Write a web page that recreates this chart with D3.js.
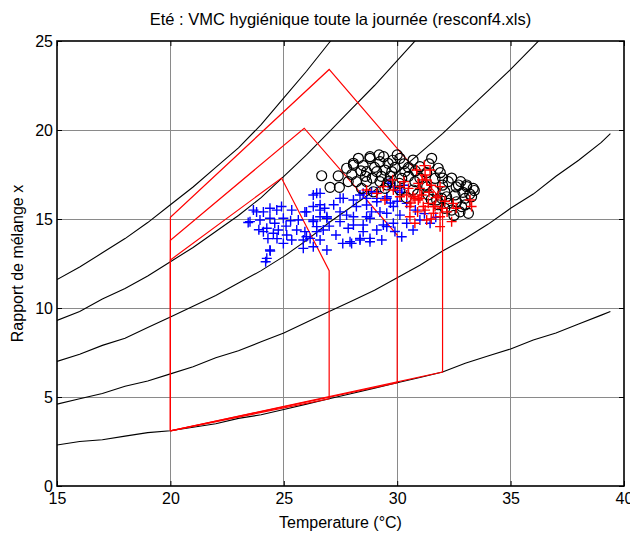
<!DOCTYPE html>
<html>
<head>
<meta charset="utf-8">
<script src="https://cdn.jsdelivr.net/npm/d3@7"></script>
<style>
body { margin: 0; background: #fff; }
svg { font-family: "Liberation Sans", Arial, sans-serif; }
</style>
</head>
<body>
<div id="chart"></div>
<script>
// humidity curves, read at each degree
var curveT = [15,16,17,18,19,20,21,22,23,24,25,26,27,28,29,30,31,32,33,34,35,36,37,38,39,39.4];
var rh100 = [11.6,12.3,13.1,13.9,14.8,15.8,16.8,17.9,19.0,20.3,21.8,23.3,24.9,26.5];
var rh80 = [9.3,9.8,10.5,11.1,11.8,12.6,13.4,14.3,15.2,16.2,17.4,18.6,19.9,21.2,22.5,23.9,25.3];
var rh60 = [7.0,7.4,7.9,8.3,8.9,9.5,10.1,10.7,11.4,12.1,12.9,13.8,14.8,15.7,16.6,17.6,18.7,19.8,21.0,22.2,23.4,24.7,26.0];
var rh40 = [4.6,4.9,5.2,5.6,5.9,6.3,6.7,7.2,7.6,8.1,8.6,9.2,9.8,10.4,11.0,11.7,12.4,13.2,13.9,14.7,15.6,16.4,17.4,18.3,19.3,19.8];
var rh20 = [2.3,2.5,2.6,2.8,3.0,3.1,3.3,3.5,3.8,4.0,4.3,4.6,4.9,5.2,5.5,5.8,6.1,6.4,6.9,7.3,7.7,8.2,8.6,9.1,9.6,9.8];

// comfort zones (temperature, mixing ratio)
var zoneA_T = [20,20,27,32,32,20];
var zoneA_x = [3.1,15.1,23.4,16.0,6.4,3.1];
var zoneB_T = [20,20,25.9,30,30,20];
var zoneB_x = [3.1,13.8,20.1,14.1,5.8,3.1];
var zoneC_T = [20,20,24.9,27,27,20];
var zoneC_x = [3.1,12.7,17.3,12.1,4.9,3.1];

// measured points
var bluePts = [
 [23.43,14.8],[23.66,15.5],[23.8,15.4],[24.1,15.4],[24.39,15.6],[24.69,15.5],[25.35,15.5],[25.93,15.4],[26.3,15.7],[26.6,15.8],[26.8,15.6],
 [23.51,14.85],[23.95,14.94],[24.39,15.04],[24.6,14.76],[24.98,15.04],[25.64,14.94],
 [24.25,14.48],[24.76,14.38],[24.1,14.29],[24.54,14.2],[25.13,14.1],[25.57,14.38],
 [26.3,14.94],[26.6,15.13],[26.9,15.04],[26.45,14.57],[26.74,14.38],
 [25.86,13.82],[25.35,13.82],[24.98,13.63],[26.0,14.0],[26.6,13.82],[26.3,13.44],[26.9,13.26],
 [24.39,13.26],[24.25,12.79],[24.2,12.6],[24.4,13.2],[25.86,13.35],
 [24.9,15.7],[25.1,14.6],[24.3,13.9],[23.9,14.4],[25.3,14.9],[24.7,13.9],
 [27.6,13.63],[27.92,13.72],[28.36,13.82],[28.8,13.91],[29.1,14.38],[28.5,14.29],[28.07,14.66],[27.48,15.4],[27.77,15.22],
 [28.2,15.7],[28.65,15.79],[28.87,15.4],[28.07,15.13],[28.65,15.13],[28.36,16.35],[28.87,16.53],[29.1,16.16],
 [26.45,16.44],[26.3,16.35],[27.62,16.16],[28.07,16.07],[26.0,15.4],[26.6,15.5],[26.9,15.13],[26.3,14.85],[25.93,14.29],
 [26.45,14.29],[26.16,13.91],[27.48,14.85],[27.84,14.48],[28.5,14.66],[28.8,15.04],[29.24,15.4],[29.39,14.66],[28.36,13.91],
 [27.99,13.63],[28.8,13.72],[29.32,13.82],[28.65,16.16],[29.1,15.97],[29.54,16.16],[29.1,16.53],
 [29.54,16.25],[29.83,15.7],[29.54,15.32],[30.12,15.22],[29.83,14.76],[30.42,14.76],[31.0,14.94],[31.45,14.76],[30.7,14.38],
 [29.54,14.57],[30.42,15.88],[27.48,16.16],[28.5,16.44],[26.6,16.44],
 [27.2,15.8],[27.0,14.6],[27.3,14.1],[30.0,16.6],[30.3,16.9],[29.7,17.0],[30.8,15.5],[31.2,15.3],[30.2,14.0],[29.9,14.3],
 [31.7,15.1],[29.6,17.0],[29.9,16.8],[30.2,16.5],[30.0,16.0],[29.7,15.9]
];
var blackPts = [
 [26.67,17.43],[27.04,16.78],[27.45,16.78],[27.4,17.42],[27.77,17.85],[28.07,18.03],[28.29,18.41],[28.8,18.41],[29.24,18.22],
 [28.65,17.66],[29.1,17.66],[29.46,17.75],[28.2,17.1],[28.65,17.1],[29.24,17.1],[28.43,16.72],[28.95,16.53],[29.46,16.72],
 [27.84,17.1],[28.8,18.5],[28.07,18.13],
 [30.12,18.41],[30.7,18.31],[31.52,18.41],[31.0,17.94],[31.81,17.85],[29.6,18.13],[29.76,17.66],[30.34,17.66],[29.6,17.1],
 [30.2,17.28],[30.78,17.1],[31.67,17.28],[32.25,17.1],[32.7,16.91],[33.06,16.82],[33.35,16.72],[32.1,16.53],[32.55,16.35],
 [32.99,16.16],[33.28,16.25],[32.25,15.88],[32.84,15.7],[31.96,16.16],[31.23,16.91],[31.37,16.35],[32.4,15.5],
 [32.6,16.8],[33.06,16.91],[32.18,16.25],[32.62,15.97],[32.99,15.79],[32.77,15.4],[33.14,15.32],[32.1,15.6],[31.74,16.07],
 [30.7,16.63],[31.3,16.8],[30.12,16.63],[29.54,16.91],
 [28.5,18.0],[29.0,17.9],[29.9,17.9],[30.5,17.9],[28.9,17.3],[29.7,17.4],[30.5,17.4],[31.3,17.6],[30.0,18.6],[29.4,18.5],
 [28.6,17.4],[31.0,17.3],[31.9,17.6],[32.4,17.3],[31.6,16.6],[30.9,16.4],[32.0,16.9],[32.9,16.5],[33.4,16.6],[30.4,16.2],
 [31.8,15.8],[32.5,15.2],[31.5,16.1],[28.0,17.5],
 [29.2,18.6],[29.8,18.3],[30.3,18.1],[28.4,17.7],[29.3,17.4],[30.1,17.0],[30.8,17.7],[31.4,18.1],[32.0,17.3],[32.8,17.1],[33.2,16.4]
];
var redPts = [
 [30.86,17.75],[31.23,17.47],[30.93,17.0],[31.08,16.35],[30.78,16.16],[31.37,15.88],[31.67,15.7],[31.23,15.5],[30.5,16.72],
 [31.96,15.6],[33.28,15.7],[30.56,15.7],[31.0,16.72],
 [28.65,16.63],[29.1,16.44],[29.46,16.07],[29.83,16.63],[30.12,16.82],[30.42,16.35],[30.7,16.25],[31.0,16.16],[31.3,17.19],
 [31.45,17.75],[31.6,15.7],[31.89,15.13],[31.3,14.94],[32.47,15.88],[33.21,16.07],[30.78,14.76],[29.39,16.82],
 [30.93,16.07],[31.15,15.7],[31.6,15.32],[30.56,15.13],[32.4,14.85],[31.89,14.57],[30.12,16.25],[31.89,16.82],
 [31.5,16.9],[31.8,16.3],[30.3,17.1],[32.1,16.0],[31.2,18.0],[29.8,17.2],[30.6,15.9],[31.4,16.5],[32.2,15.4],
 [31.1,17.2],[31.7,16.2],[30.9,15.4],[31.5,15.0],[32.6,15.6]
];

var xTicks = [15,20,25,30,35,40];
var yTicks = [0,5,10,15,20,25];

var W = 630, H = 534;
var mLeft = 57, mRight = 624, mTop = 41, mBottom = 486;

var svg = d3.select("#chart").append("svg").attr("width", W).attr("height", H);

var x = d3.scaleLinear().domain([15, 40]).range([mLeft, mRight]);
var y = d3.scaleLinear().domain([0, 25]).range([mBottom, mTop]);

svg.append("defs").append("clipPath").attr("id", "clip")
    .append("rect").attr("x", mLeft).attr("y", mTop)
    .attr("width", mRight - mLeft).attr("height", mBottom - mTop);

// grid
svg.append("g").selectAll("line")
    .data(xTicks.slice(1, -1)).enter().append("line")
    .attr("x1", d => x(d)).attr("x2", d => x(d))
    .attr("y1", mTop).attr("y2", mBottom)
    .attr("stroke", "#8a8a8a").attr("stroke-width", 1).attr("shape-rendering", "crispEdges");
svg.append("g").selectAll("line")
    .data(yTicks.slice(1, -1)).enter().append("line")
    .attr("x1", mLeft).attr("x2", mRight)
    .attr("y1", d => y(d)).attr("y2", d => y(d))
    .attr("stroke", "#8a8a8a").attr("stroke-width", 1).attr("shape-rendering", "crispEdges");

var plot = svg.append("g").attr("clip-path", "url(#clip)");

var line = d3.line().x(d => x(d[0])).y(d => y(d[1]));

[rh100, rh80, rh60, rh40, rh20].forEach(function (c) {
    var pts = c.map((v, i) => [curveT[i], v]);
    plot.append("path").attr("d", line(pts))
        .attr("fill", "none").attr("stroke", "#000").attr("stroke-width", 1.1);
});

[[zoneA_T, zoneA_x], [zoneB_T, zoneB_x], [zoneC_T, zoneC_x]].forEach(function (z) {
    var pts = z[0].map((t, i) => [t, z[1][i]]);
    plot.append("path").attr("d", line(pts))
        .attr("fill", "none").attr("stroke", "#ff0000").attr("stroke-width", 1.2);
});

function plus(g, data, color) {
    var s = 5;
    g.selectAll(null).data(data).enter().append("path")
        .attr("d", d => "M" + (x(d[0]) - s) + "," + y(d[1]) + "h" + (2 * s) +
            "M" + x(d[0]) + "," + (y(d[1]) - s) + "v" + (2 * s))
        .attr("stroke", color).attr("stroke-width", 1.4).attr("fill", "none");
}

plus(plot.append("g"), bluePts, "#0000ff");

plot.append("g").selectAll("circle").data(blackPts).enter().append("circle")
    .attr("cx", d => x(d[0])).attr("cy", d => y(d[1])).attr("r", 5)
    .attr("fill", "none").attr("stroke", "#000").attr("stroke-width", 1.2);

plus(plot.append("g"), redPts, "#ff0000");

// axes
var gx = svg.append("g").attr("transform", "translate(0," + mBottom + ")")
    .call(d3.axisBottom(x).tickValues(xTicks).tickSize(-5).tickPadding(7));
var gx2 = svg.append("g").attr("transform", "translate(0," + mTop + ")")
    .call(d3.axisTop(x).tickValues(xTicks).tickSize(-5).tickFormat(""));
var gy = svg.append("g").attr("transform", "translate(" + mLeft + ",0)")
    .call(d3.axisLeft(y).tickValues(yTicks).tickSize(-5).tickPadding(4));
var gy2 = svg.append("g").attr("transform", "translate(" + mRight + ",0)")
    .call(d3.axisRight(y).tickValues(yTicks).tickSize(-5).tickFormat(""));

[gx, gx2, gy, gy2].forEach(function (g) {
    g.select(".domain").remove();
    g.selectAll(".tick line").attr("stroke", "#000");
    g.selectAll("text").attr("fill", "#000").style("font-size", "16px")
        .style("font-family", "'Liberation Sans', Arial, sans-serif");
});

svg.append("rect").attr("x", mLeft).attr("y", mTop)
    .attr("width", mRight - mLeft).attr("height", mBottom - mTop)
    .attr("fill", "none").attr("stroke", "#000").attr("stroke-width", 1.6);

svg.append("text").attr("x", (mLeft + mRight) / 2).attr("y", 25)
    .attr("text-anchor", "middle").style("font-size", "16.5px")
    .text("Eté : VMC hygiénique toute la journée (resconf4.xls)");

svg.append("text").attr("x", (mLeft + mRight) / 2).attr("y", 528)
    .attr("text-anchor", "middle").style("font-size", "16px")
    .text("Temperature (°C)");

svg.append("text").attr("transform", "translate(23," + ((mTop + mBottom) / 2) + ") rotate(-90)")
    .attr("text-anchor", "middle").style("font-size", "16px")
    .text("Rapport de mélange x");
</script>
</body>
</html>
